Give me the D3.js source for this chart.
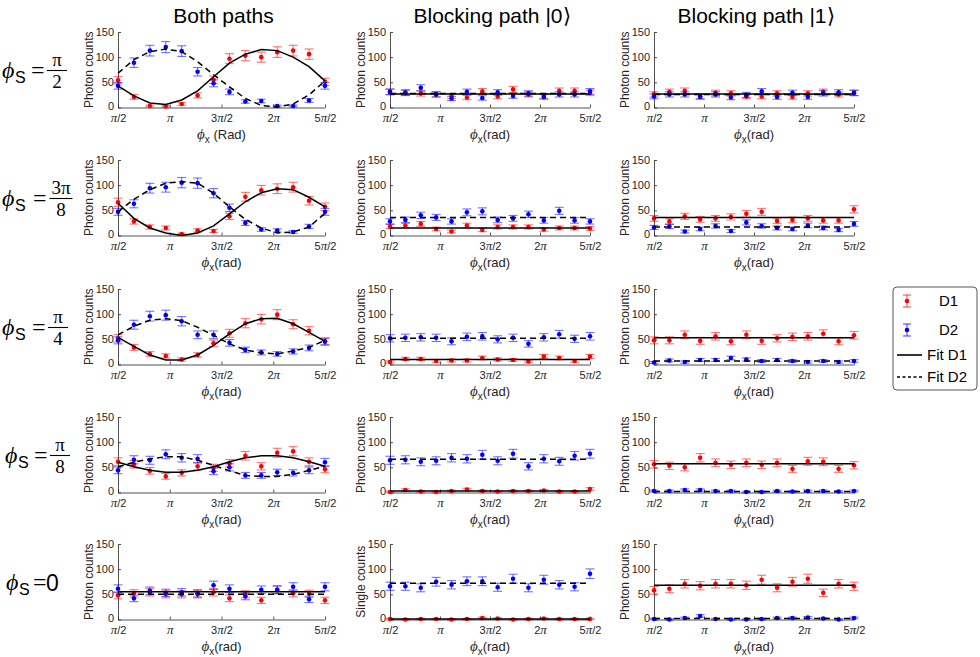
<!DOCTYPE html>
<html>
<head>
<meta charset="utf-8">
<script src="https://cdn.jsdelivr.net/npm/d3@7"></script>
<style>
  body { margin: 0; background: #fff; }
  svg text { font-family: "Liberation Sans", Arial, Helvetica, sans-serif; }
</style>
</head>
<body>
<div id="chart"></div>
<script>
// phase settings of the scan (rad), pi/2 .. 5pi/2 in 14 steps
const phiX = [1.571, 2.054, 2.538, 3.021, 3.504, 3.987, 4.471, 4.954, 5.437, 5.920, 6.404, 6.887, 7.370, 7.854];
const xTicks = [Math.PI / 2, Math.PI, 3 * Math.PI / 2, 2 * Math.PI, 5 * Math.PI / 2];
const xTickLabels = ["π/2", "π", "3π/2", "2π", "5π/2"];
const yTicks = [0, 50, 100, 150];
const colTitles = ["Both paths", "Blocking path |0⟩", "Blocking path |1⟩"];
const rowNum = ["π", "3π", "π", "π", null];
const rowDen = ["2", "8", "4", "8", null];

// phi_s = pi/2
const both_r1_D1 = [54, 21, 3, 2, 7, 24, 55, 97, 103, 100, 110, 113, 106, 51];
const both_r1_D2 = [43, 89, 113, 120, 112, 71, 48, 31, 12, 13, 3, 3, 14, 43];
const both_r1_F1 = [43, 23, 9, 6, 15, 33, 61, 88, 106, 115, 113, 100, 81, 53];
const both_r1_F2 = [68, 95, 111, 116, 111, 91, 65, 41, 18, 4, 1, 7, 25, 53];
const blk0_r1_D1 = [31, 30, 28, 26, 23, 20, 32, 22, 36, 26, 23, 33, 33, 29];
const blk0_r1_D2 = [31, 29, 39, 26, 18, 31, 19, 30, 23, 28, 21, 26, 26, 32];
const blk1_r1_D1 = [26, 31, 33, 21, 29, 28, 22, 22, 28, 21, 28, 31, 26, 29];
const blk1_r1_D2 = [22, 26, 26, 22, 26, 20, 25, 32, 21, 29, 21, 28, 30, 29];

// phi_s = 3pi/8
const both_r2_D1 = [66, 28, 17, 15, 3, 10, 9, 38, 77, 90, 93, 96, 69, 57];
const both_r2_D2 = [47, 63, 94, 96, 105, 104, 84, 55, 25, 12, 10, 7, 18, 47];
const both_r2_F1 = [64, 34, 15, 5, 0, 5, 19, 43, 67, 85, 93, 91, 76, 57];
const both_r2_F2 = [47, 72, 91, 104, 107, 104, 84, 57, 32, 15, 5, 7, 17, 44];
const blk0_r2_D1 = [18, 20, 23, 13, 8, 20, 11, 17, 17, 17, 12, 15, 15, 14];
const blk0_r2_D2 = [28, 31, 40, 36, 28, 46, 48, 31, 34, 42, 30, 49, 30, 28];
const blk1_r2_D1 = [34, 28, 38, 32, 34, 37, 43, 47, 29, 31, 34, 30, 30, 52];
const blk1_r2_D2 = [16, 18, 8, 13, 19, 9, 26, 19, 15, 13, 20, 15, 11, 23];

// phi_s = pi/4
const both_r3_D1 = [52, 34, 21, 17, 10, 19, 42, 62, 82, 90, 99, 80, 67, 45];
const both_r3_D2 = [48, 79, 96, 98, 86, 59, 59, 43, 29, 24, 21, 26, 33, 46];
const both_r3_F1 = [54, 36, 19, 9, 9, 19, 38, 61, 81, 91, 92, 81, 64, 46];
const both_r3_F2 = [59, 76, 88, 91, 87, 74, 58, 41, 29, 23, 21, 27, 34, 48];
const blk0_r3_D1 = [5, 11, 11, 7, 8, 8, 13, 10, 9, 6, 16, 13, 7, 16];
const blk0_r3_D2 = [52, 53, 54, 53, 46, 55, 56, 50, 53, 41, 54, 60, 51, 56];
const blk1_r3_D1 = [48, 48, 59, 47, 56, 46, 59, 47, 52, 55, 56, 61, 46, 58];
const blk1_r3_D2 = [4, 8, 5, 9, 9, 13, 10, 7, 9, 7, 5, 7, 5, 7];

// phi_s = pi/8
const both_r4_D1 = [61, 56, 43, 32, 39, 52, 49, 58, 73, 52, 79, 82, 61, 46];
const both_r4_D2 = [44, 65, 64, 76, 69, 67, 42, 50, 34, 34, 40, 39, 44, 60];
const both_r4_F1 = [60, 51, 44, 40, 40, 44, 51, 61, 69, 73, 73, 69, 61, 52];
const both_r4_F2 = [51, 60, 67, 71, 71, 64, 54, 43, 34, 32, 32, 36, 44, 52];
const blk0_r4_D1 = [1, 5, 2, 1, 3, 6, 3, 2, 3, 3, 4, 2, 2, 7];
const blk0_r4_D2 = [64, 65, 61, 63, 69, 67, 75, 63, 77, 52, 67, 62, 73, 77];
const blk1_r4_D1 = [56, 53, 50, 69, 59, 55, 59, 55, 59, 47, 62, 61, 47, 54];
const blk1_r4_D2 = [3, 3, 5, 5, 3, 3, 1, 1, 3, 2, 3, 3, 2, 3];

// phi_s = 0
const both_r5_D1 = [48, 52, 54, 50, 50, 50, 54, 42, 50, 38, 59, 52, 51, 38];
const both_r5_D2 = [61, 42, 57, 53, 54, 52, 68, 61, 46, 59, 59, 65, 40, 65];
const blk0_r5_D1 = [1, 0, 1, 1, 0, 1, 3, 2, 0, 1, 2, 1, 1, 1];
const blk0_r5_D2 = [66, 66, 63, 75, 69, 76, 76, 64, 81, 63, 79, 69, 65, 91];
const blk1_r5_D1 = [58, 61, 71, 67, 71, 71, 68, 79, 63, 75, 81, 53, 71, 66];
const blk1_r5_D2 = [1, 0, 3, 7, 1, 0, 0, 1, 3, 3, 4, 2, 0, 3];

// flat fit levels [Fit D1, Fit D2]
const flatFits = {
  both_r5: [55, 50],
  blk0_r1: [27, 28], blk1_r1: [27, 26],
  blk0_r2: [15, 36], blk1_r2: [36, 17],
  blk0_r3: [10, 52], blk1_r3: [53, 7],
  blk0_r4: [3, 66],  blk1_r4: [57, 2],
  blk0_r5: [1, 72],  blk1_r5: [68, 2]
};

const flat = (v) => phiX.map(() => v);

const panels = [
  [
    { d1: both_r1_D1, d2: both_r1_D2, f1: both_r1_F1, f2: both_r1_F2 },
    { d1: blk0_r1_D1, d2: blk0_r1_D2, f1: flat(flatFits.blk0_r1[0]), f2: flat(flatFits.blk0_r1[1]) },
    { d1: blk1_r1_D1, d2: blk1_r1_D2, f1: flat(flatFits.blk1_r1[0]), f2: flat(flatFits.blk1_r1[1]) }
  ],
  [
    { d1: both_r2_D1, d2: both_r2_D2, f1: both_r2_F1, f2: both_r2_F2 },
    { d1: blk0_r2_D1, d2: blk0_r2_D2, f1: flat(flatFits.blk0_r2[0]), f2: flat(flatFits.blk0_r2[1]) },
    { d1: blk1_r2_D1, d2: blk1_r2_D2, f1: flat(flatFits.blk1_r2[0]), f2: flat(flatFits.blk1_r2[1]) }
  ],
  [
    { d1: both_r3_D1, d2: both_r3_D2, f1: both_r3_F1, f2: both_r3_F2 },
    { d1: blk0_r3_D1, d2: blk0_r3_D2, f1: flat(flatFits.blk0_r3[0]), f2: flat(flatFits.blk0_r3[1]) },
    { d1: blk1_r3_D1, d2: blk1_r3_D2, f1: flat(flatFits.blk1_r3[0]), f2: flat(flatFits.blk1_r3[1]) }
  ],
  [
    { d1: both_r4_D1, d2: both_r4_D2, f1: both_r4_F1, f2: both_r4_F2 },
    { d1: blk0_r4_D1, d2: blk0_r4_D2, f1: flat(flatFits.blk0_r4[0]), f2: flat(flatFits.blk0_r4[1]) },
    { d1: blk1_r4_D1, d2: blk1_r4_D2, f1: flat(flatFits.blk1_r4[0]), f2: flat(flatFits.blk1_r4[1]) }
  ],
  [
    { d1: both_r5_D1, d2: both_r5_D2, f1: flat(flatFits.both_r5[0]), f2: flat(flatFits.both_r5[1]) },
    { d1: blk0_r5_D1, d2: blk0_r5_D2, f1: flat(flatFits.blk0_r5[0]), f2: flat(flatFits.blk0_r5[1]) },
    { d1: blk1_r5_D1, d2: blk1_r5_D2, f1: flat(flatFits.blk1_r5[0]), f2: flat(flatFits.blk1_r5[1]) }
  ]
];

// layout
const W = 980, H = 657;
const colX = [118, 390, 654], colW = [207, 200, 200];
const rowY = [32, 160, 289, 417, 544], plotH = 75.5;
const axisColor = "#262626";
const red = "#ff0000", blue = "#0000ff";
const serif = "'Liberation Serif', 'DejaVu Serif', serif";

const svg = d3.select("#chart").append("svg")
  .attr("width", W).attr("height", H)
  .style("background", "#fff");

// render "3π/2" style strings with a serif italic pi
function piText(sel, str) {
  sel.text(null);
  const parts = str.split("π");
  parts.forEach((p, i) => {
    if (p) sel.append("tspan").text(p);
    if (i < parts.length - 1)
      sel.append("tspan").style("font-family", serif).style("font-style", "italic")
        .style("font-size", "13px").text("π");
  });
}

function errorBars(g, x, y, vals, color) {
  const cap = 4.5;
  const eb = g.append("g");
  vals.forEach((v, i) => {
    const e = Math.max(Math.sqrt(v), 1.5);
    const cx = x(phiX[i]);
    const yt = y(v + e), yb = y(Math.max(v - e, -1.2));
    const b = eb.append("g").attr("stroke", color).attr("stroke-opacity", 0.55).attr("stroke-width", 1.1);
    b.append("line").attr("x1", cx).attr("x2", cx).attr("y1", yt).attr("y2", yb);
    b.append("line").attr("x1", cx - cap).attr("x2", cx + cap).attr("y1", yt).attr("y2", yt);
    b.append("line").attr("x1", cx - cap).attr("x2", cx + cap).attr("y1", yb).attr("y2", yb);
  });
  eb.selectAll("circle.pt").data(vals).join("circle")
    .attr("class", "pt")
    .attr("cx", (d, i) => x(phiX[i]))
    .attr("cy", (d) => y(d))
    .attr("r", 2.3)
    .attr("fill", color);
}

function drawPanel(p, r, c) {
  const x0 = colX[c], y0 = rowY[r], w = colW[c];
  const x = d3.scaleLinear().domain([Math.PI / 2, 5 * Math.PI / 2]).range([x0, x0 + w]);
  const y = d3.scaleLinear().domain([0, 150]).range([y0 + plotH, y0]);
  const g = svg.append("g");

  const yAxis = g.append("g")
    .attr("transform", `translate(${x0},0)`)
    .call(d3.axisLeft(y).tickValues(yTicks).tickSize(-3).tickSizeOuter(0).tickPadding(4));
  const xAxis = g.append("g")
    .attr("transform", `translate(0,${y0 + plotH})`)
    .call(d3.axisBottom(x).tickValues(xTicks).tickSize(-3).tickSizeOuter(0).tickPadding(7)
      .tickFormat((d, i) => xTickLabels[i]));
  [yAxis, xAxis].forEach((a) => {
    a.select(".domain").attr("stroke", axisColor).attr("stroke-width", 0.8);
    a.selectAll(".tick line").attr("stroke", axisColor).attr("stroke-width", 0.8);
    a.selectAll(".tick text").attr("fill", axisColor).style("font-size", "11px")
      .style("font-family", "'Liberation Sans', Arial, sans-serif");
  });
  yAxis.selectAll(".tick text").attr("dy", (d) => d === 0 ? "0.2em" : "0.32em");
  xAxis.selectAll(".tick text").each(function (d, i) { piText(d3.select(this), xTickLabels[i]); });

  // y label
  const ylab = (r === 4 && c === 1) ? "Single counts" : "Photon counts";
  g.append("text")
    .attr("transform", `translate(${x0 - 25},${y0 + plotH / 2}) rotate(-90)`)
    .attr("text-anchor", "middle")
    .attr("fill", axisColor)
    .style("font-size", "12px")
    .text(ylab);

  // x label
  const xl = g.append("text")
    .attr("x", x0 + w / 2).attr("y", y0 + plotH + 31)
    .attr("text-anchor", "middle")
    .attr("fill", axisColor)
    .style("font-size", "13px");
  xl.append("tspan").style("font-family", serif).style("font-style", "italic")
    .style("font-size", "15px").text("ϕ");
  xl.append("tspan").attr("dy", 4).style("font-size", "10px").text("x");
  xl.append("tspan").attr("dy", -4).text((r === 0 && c === 0) ? " (Rad)" : "(rad)");

  errorBars(g, x, y, p.d1, red);
  errorBars(g, x, y, p.d2, blue);

  const line = d3.line().x((d, i) => x(phiX[i])).y((d) => y(d));
  g.append("path").attr("d", line(p.f1)).attr("fill", "none")
    .attr("stroke", "#000").attr("stroke-width", 1.5);
  g.append("path").attr("d", line(p.f2)).attr("fill", "none")
    .attr("stroke", "#000").attr("stroke-width", 1.5).attr("stroke-dasharray", "6,4");
}

panels.forEach((row, r) => row.forEach((p, c) => drawPanel(p, r, c)));

// column titles
colTitles.forEach((t, c) => {
  svg.append("text")
    .attr("x", colX[c] + colW[c] / 2 + 2).attr("y", 23)
    .attr("text-anchor", "middle")
    .attr("fill", "#000")
    .style("font-size", "21px")
    .text(t);
});

// row labels  phi_s = ...
const labPos = [
  { phi: 2, s: 15, eq: 31, fc: 57 },
  { phi: 2, s: 15, eq: 33, fc: 61 },
  { phi: 2, s: 15, eq: 32, fc: 58 },
  { phi: 5, s: 18, eq: 34, fc: 60 },
  { phi: 6, s: 19, eq: 33, fc: 46 }
];
labPos.forEach((L, r) => {
  const cy = rowY[r] + 38;
  const g = svg.append("g");
  g.append("text").attr("x", L.phi).attr("y", cy + 8)
    .style("font-family", serif).style("font-style", "italic").style("font-size", "24px").text("ϕ");
  g.append("text").attr("x", L.s).attr("y", cy + 13).style("font-size", "16px").text("S");
  g.append("text").attr("x", L.eq).attr("y", cy + 8)
    .style("font-family", serif).style("font-size", "24px").text("=");
  if (rowNum[r] === null) {
    g.append("text").attr("x", L.fc).attr("y", cy + 9).style("font-size", "23px").text("0");
  } else {
    const fw = rowNum[r].length > 1 ? 23 : 20;
    g.append("text").attr("x", L.fc).attr("y", cy - 4).attr("text-anchor", "middle")
      .style("font-family", serif).style("font-size", "19px").text(rowNum[r]);
    g.append("line").attr("x1", L.fc - fw / 2).attr("x2", L.fc + fw / 2)
      .attr("y1", cy + 0.5).attr("y2", cy + 0.5).attr("stroke", "#000").attr("stroke-width", 1.1);
    g.append("text").attr("x", L.fc).attr("y", cy + 18).attr("text-anchor", "middle")
      .style("font-family", serif).style("font-size", "19px").text(rowDen[r]);
  }
});

// legend
const lg = svg.append("g").attr("transform", "translate(893,287)");
lg.append("rect").attr("width", 84).attr("height", 103).attr("rx", 4)
  .attr("fill", "#fff").attr("stroke", "#444").attr("stroke-width", 0.9);
const legItems = [
  { label: "D1", color: red, y: 14 },
  { label: "D2", color: blue, y: 43 }
];
legItems.forEach((it) => {
  const b = lg.append("g").attr("stroke", it.color).attr("stroke-opacity", 0.7).attr("stroke-width", 1.1);
  b.append("line").attr("x1", 14).attr("x2", 14).attr("y1", it.y - 6).attr("y2", it.y + 6);
  b.append("line").attr("x1", 10).attr("x2", 18).attr("y1", it.y - 6).attr("y2", it.y - 6);
  b.append("line").attr("x1", 10).attr("x2", 18).attr("y1", it.y + 6).attr("y2", it.y + 6);
  lg.append("circle").attr("cx", 14).attr("cy", it.y).attr("r", 2.3).attr("fill", it.color);
  lg.append("text").attr("x", 46).attr("y", it.y + 5).style("font-size", "15px").text(it.label);
});
lg.append("line").attr("x1", 4).attr("x2", 29).attr("y1", 68).attr("y2", 68)
  .attr("stroke", "#000").attr("stroke-width", 1.6);
lg.append("text").attr("x", 34).attr("y", 73).style("font-size", "15px").text("Fit D1");
lg.append("line").attr("x1", 4).attr("x2", 29).attr("y1", 90).attr("y2", 90)
  .attr("stroke", "#000").attr("stroke-width", 1.4).attr("stroke-dasharray", "3,2.5");
lg.append("text").attr("x", 34).attr("y", 95).style("font-size", "15px").text("Fit D2");
</script>
</body>
</html>
